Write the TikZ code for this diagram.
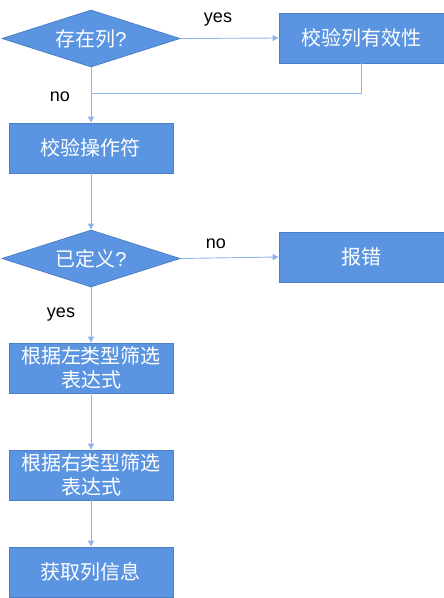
\documentclass[tikz,border=0pt]{standalone}
\usepackage{fontspec}
\setmainfont{Liberation Sans}
\newfontfamily\cjk{Noto Sans CJK SC}
\usetikzlibrary{shapes.geometric,arrows.meta}
\definecolor{boxfill}{HTML}{5B95E2}
\definecolor{boxline}{HTML}{4B7FC6}
\definecolor{conn}{HTML}{8DB5EE}
\tikzset{
  x=1pt,y=-1pt,
  stepbox/.style={draw=boxline,fill=boxfill,line width=0.8pt,minimum width=164pt,minimum height=50pt,inner sep=0pt,text=white,font=\cjk\fontsize{20}{24}\selectfont,align=center},
  decide/.style={diamond,draw=boxline,fill=boxfill,line width=0.8pt,minimum width=178pt,minimum height=57pt,inner sep=0pt,aspect=3.1,text=white,font=\fontsize{20}{24}\selectfont},
  conline/.style={draw=conn,line width=0.9pt},
  arr/.style={conline,-{Triangle[width=6pt,length=6pt]}},
  lbl/.style={font=\fontsize{18}{20}\selectfont,text=black,inner sep=0pt}
}
\begin{document}
\begin{tikzpicture}
\useasboundingbox (0,0) rectangle (444,598);
\node[decide] (d1) at (91,38.5) {{\cjk 存在列}?};
\node[stepbox,minimum width=165pt] (b1) at (361.5,38) {校验列有效性};
\node[stepbox] (b2) at (91,148) {校验操作符};
\node[decide] (d2) at (91,258.5) {{\cjk 已定义}?};
\node[stepbox,minimum width=165pt] (b3) at (361.5,257) {报错};
\node[stepbox] (b4) at (91,368) {根据左类型筛选\\表达式};
\node[stepbox] (b5) at (91,475) {根据右类型筛选\\表达式};
\node[stepbox] (b6) at (91,572) {获取列信息};
\coordinate (j1) at (91,93);
\draw[arr] (d1.east) -- (b1.west);
\draw[conline] (b1.south) |- (j1);
\draw[arr] (d1.south) -- (b2.north);
\draw[arr] (b2.south) -- (d2.north);
\draw[arr] (d2.east) -- (b3.west);
\draw[arr] (d2.south) -- (b4.north);
\draw[arr] (b4.south) -- (b5.north);
\draw[arr] (b5.south) -- (b6.north);
\node[lbl] (l1) at (218,20) {yes};
\node[lbl] (l2) at (60,97) {no};
\node[lbl] (l3) at (216,244) {no};
\node[lbl] (l4) at (61,315) {yes};
\end{tikzpicture}
\end{document}
